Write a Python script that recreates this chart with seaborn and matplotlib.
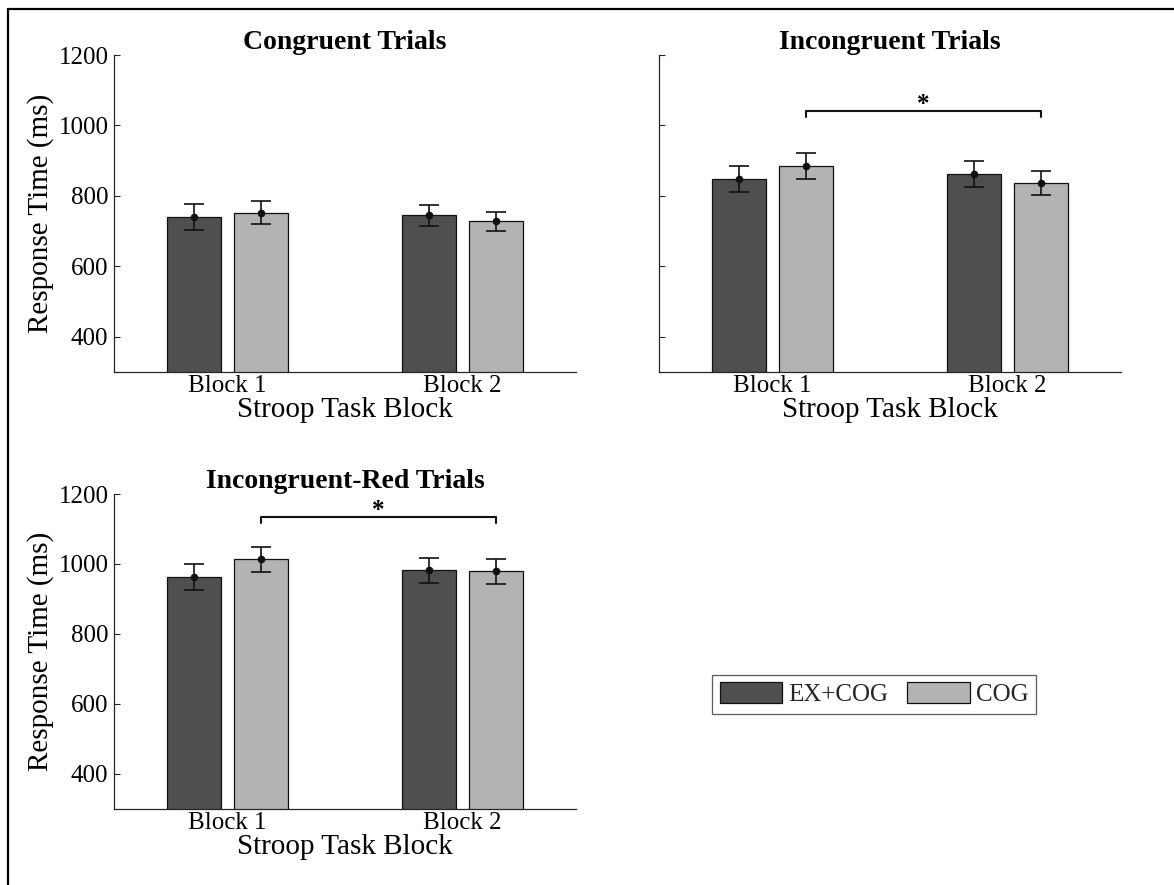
import numpy as np
import pandas as pd
import matplotlib
matplotlib.use("Agg")
import matplotlib.pyplot as plt
import seaborn as sns
from matplotlib.patches import Patch
from matplotlib.lines import Line2D

# ---------------- data ----------------
blocks = ["Block 1", "Block 2"]
groups = ["EX+COG", "COG"]
titles = ["Congruent Trials", "Incongruent Trials", "Incongruent-Red Trials"]

cong_excog = [740, 745]
cong_cog = [752, 728]
cong_excog_err = [36, 30]
cong_cog_err = [33, 27]

incong_excog = [848, 862]
incong_cog = [885, 837]
incong_excog_err = [38, 38]
incong_cog_err = [36, 35]

red_excog = [963, 982]
red_cog = [1013, 979]
red_excog_err = [37, 35]
red_cog_err = [36, 35]

sig_bracket = [None, 1040, 1134]   # bracket height (ms) per panel
yticks = [400, 600, 800, 1000, 1200]

# ---------------- style ----------------
sns.set_theme(style="white")
plt.rcParams["font.family"] = ["Liberation Serif", "DejaVu Serif"]
plt.rcParams["axes.edgecolor"] = "#262626"

dark = "#4f4f4f"
light = "#b3b3b3"

W, H = 1174, 885
fig = plt.figure(figsize=(W / 100, H / 100), dpi=100)

def fx(px):
    return px / W

def fy(py):
    return 1 - py / H

positions = [
    [fx(114), fy(372), fx(576) - fx(114), fy(55) - fy(372)],
    [fx(659), fy(372), fx(576) - fx(114), fy(55) - fy(372)],
    [fx(114), fy(809), fx(576) - fx(114), fy(494) - fy(809)],
]

panels = [
    (cong_excog, cong_cog, cong_excog_err, cong_cog_err),
    (incong_excog, incong_cog, incong_excog_err, incong_cog_err),
    (red_excog, red_cog, red_excog_err, red_cog_err),
]

for i, (m1, m2, e1, e2) in enumerate(panels):
    ax = fig.add_axes(positions[i])
    df = pd.DataFrame({
        "block": blocks + blocks,
        "group": [groups[0]] * 2 + [groups[1]] * 2,
        "rt": list(m1) + list(m2),
    })
    sns.barplot(data=df, x="block", y="rt", hue="group", order=blocks,
                hue_order=groups, palette=[dark, light], width=0.572, gap=0.2,
                errorbar=None, edgecolor="#111111", linewidth=0.9, ax=ax,
                legend=False)
    errs = list(e1) + list(e2)
    xs, hs = [], []
    for p in ax.patches:
        xs.append(p.get_x() + p.get_width() / 2)
        hs.append(p.get_height())
    ax.errorbar(xs, hs, yerr=errs, fmt="o", color="#111111", ms=4.5,
                capsize=7, elinewidth=1.2, capthick=1.2, zorder=5)

    if sig_bracket[i] is not None:
        yb = sig_bracket[i]
        xa, xb = xs[2], xs[3]
        ax.plot([xa, xa, xb, xb], [yb - 16, yb, yb, yb - 16],
                color="#111111", lw=1.5, clip_on=False)
        ax.annotate("*", xy=((xa + xb) / 2, yb), xytext=(0, 0),
                    textcoords="offset points", ha="center", va="baseline",
                    fontsize=18, fontweight="bold", color="black")

    ax.set_ylim(300, 1200)
    ax.set_xlim(-0.485, 1.485)
    ax.set_yticks(yticks)
    ax.set_title(titles[i], fontsize=20, fontweight="bold", pad=4, color="black")
    ax.set_xlabel("Stroop Task Block", fontsize=21, color="black", labelpad=0)
    if i == 1:
        ax.set_ylabel("")
        ax.set_yticklabels([])
    else:
        ax.set_ylabel("Response Time (ms)", fontsize=21, color="black", labelpad=3)
    ax.tick_params(axis="both", direction="in", length=4, width=0.8,
                   colors="#262626", labelcolor="black", labelsize=18)
    ax.tick_params(axis="x", pad=2)
    ax.tick_params(axis="y", pad=4, left=True)
    for s in ["top", "right"]:
        ax.spines[s].set_visible(False)
    for s in ["left", "bottom"]:
        ax.spines[s].set_linewidth(0.9)

handles = [Patch(facecolor=dark, edgecolor="#111111", linewidth=0.9),
           Patch(facecolor=light, edgecolor="#111111", linewidth=0.9)]
leg = fig.legend(handles=handles, labels=groups, ncol=2, loc="center",
                 bbox_to_anchor=(fx(874), fy(694)), frameon=True, fancybox=False,
                 edgecolor="#333333", fontsize=18, handlelength=2.5,
                 handleheight=0.9, handletextpad=0.25, columnspacing=0.75,
                 borderpad=0.3, borderaxespad=0)
leg.get_frame().set_linewidth(0.9)

# outer frame (screenshot border)
fig.add_artist(Line2D([fx(8), fx(8)], [0, fy(9)], transform=fig.transFigure,
                      color="black", lw=1.6))
fig.add_artist(Line2D([fx(8), 1], [fy(9), fy(9)], transform=fig.transFigure,
                      color="black", lw=1.6))

fig.savefig("out.png", dpi=100)
